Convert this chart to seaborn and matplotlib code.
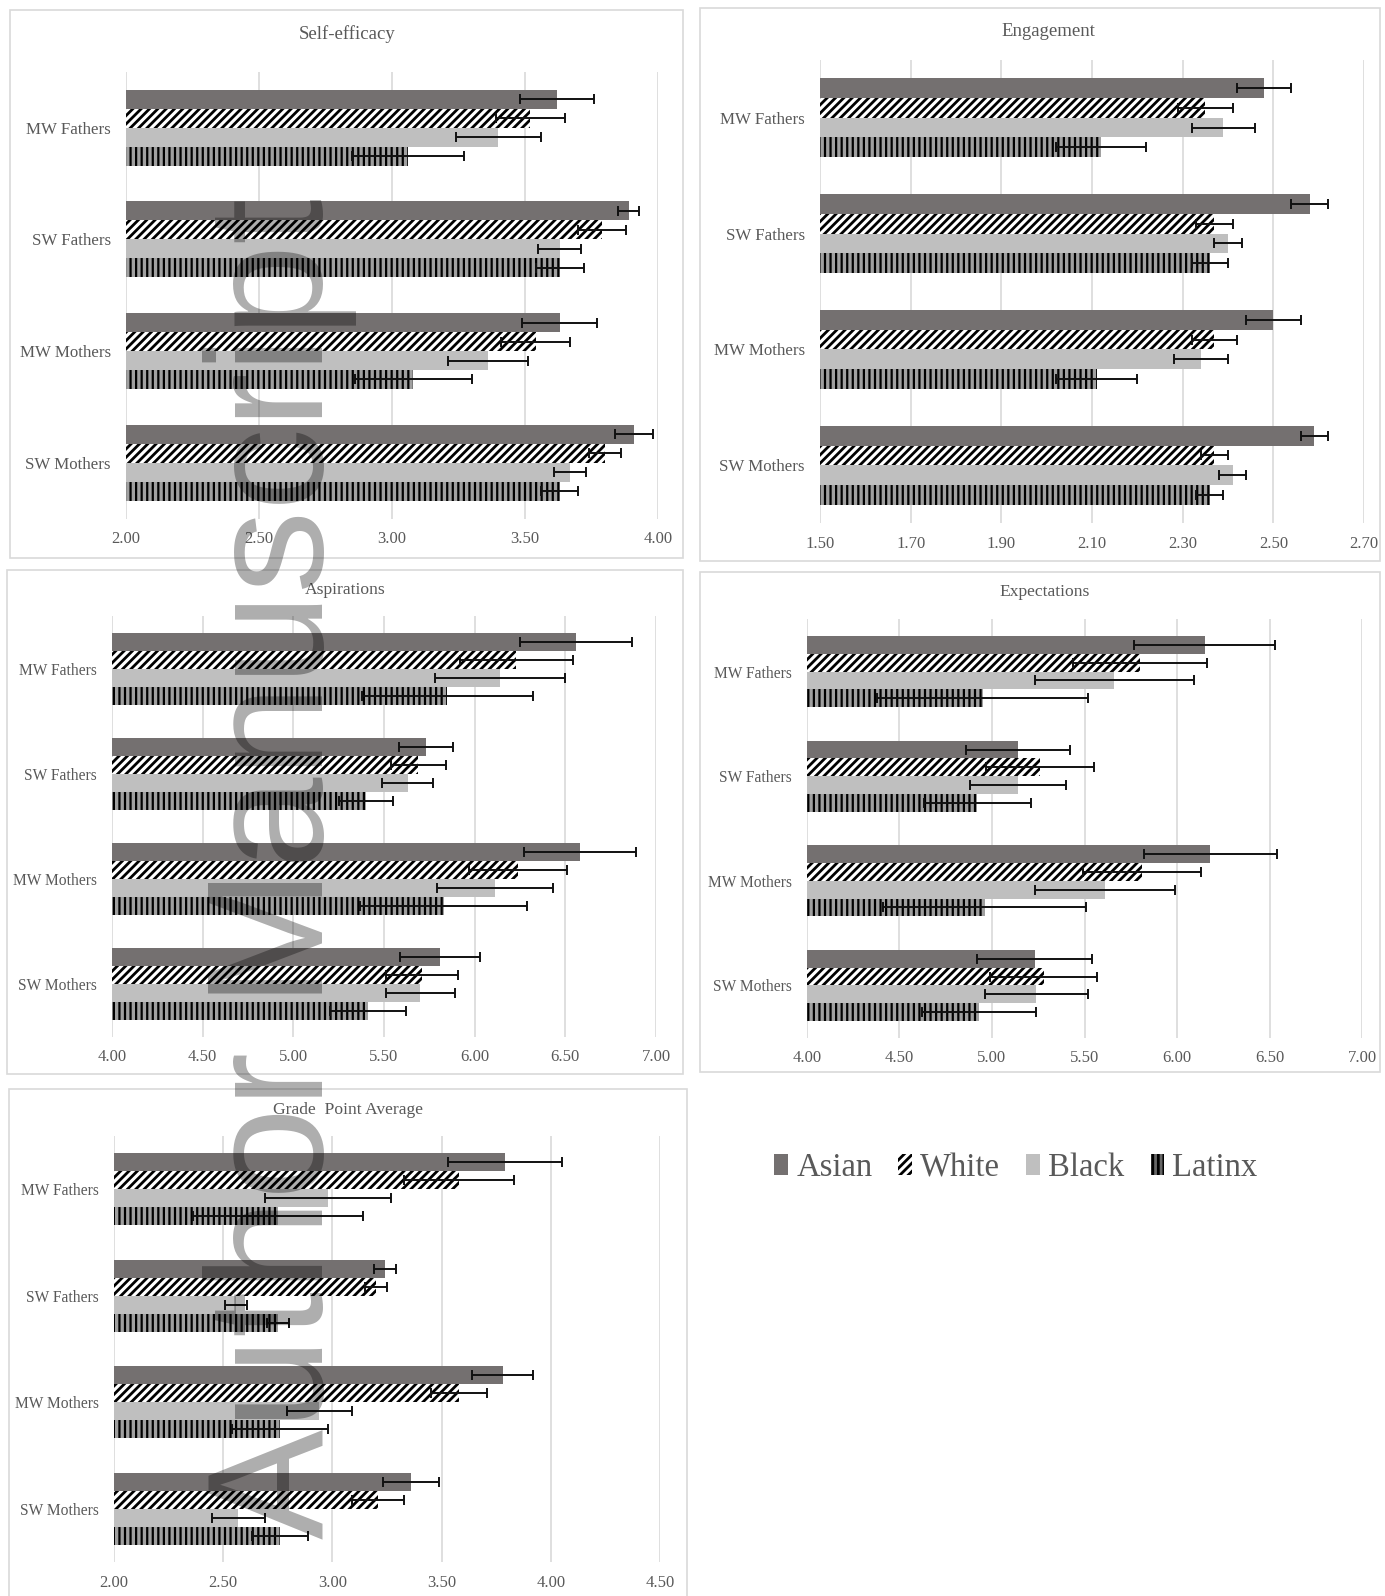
import numpy as np
import pandas as pd
import matplotlib
matplotlib.use("Agg")
import matplotlib.pyplot as plt
from matplotlib.patches import Patch, Rectangle
import seaborn as sns

# ---- data -------------------------------------------------------------
groups = ["MW Fathers", "SW Fathers", "MW Mothers", "SW Mothers"]
races = ["Asian", "White", "Black", "Latinx"]

# mean values, rows = groups, columns = races
self_efficacy = [[3.62, 3.52, 3.40, 3.06],
                 [3.89, 3.79, 3.63, 3.63],
                 [3.63, 3.54, 3.36, 3.08],
                 [3.91, 3.80, 3.67, 3.63]]
self_efficacy_err = [[0.14, 0.13, 0.16, 0.21],
                     [0.04, 0.09, 0.08, 0.09],
                     [0.14, 0.13, 0.15, 0.22],
                     [0.07, 0.06, 0.06, 0.07]]

engagement = [[2.48, 2.35, 2.39, 2.12],
              [2.58, 2.37, 2.40, 2.36],
              [2.50, 2.37, 2.34, 2.11],
              [2.59, 2.37, 2.41, 2.36]]
engagement_err = [[0.06, 0.06, 0.07, 0.10],
                  [0.04, 0.04, 0.03, 0.04],
                  [0.06, 0.05, 0.06, 0.09],
                  [0.03, 0.03, 0.03, 0.03]]

aspirations = [[6.56, 6.23, 6.14, 5.85],
               [5.73, 5.69, 5.63, 5.40],
               [6.58, 6.24, 6.11, 5.83],
               [5.81, 5.71, 5.70, 5.41]]
aspirations_err = [[0.31, 0.31, 0.36, 0.47],
                   [0.15, 0.15, 0.14, 0.15],
                   [0.31, 0.27, 0.32, 0.46],
                   [0.22, 0.20, 0.19, 0.21]]

expectations = [[6.15, 5.80, 5.66, 4.95],
                [5.14, 5.26, 5.14, 4.92],
                [6.18, 5.81, 5.61, 4.96],
                [5.23, 5.28, 5.24, 4.93]]
expectations_err = [[0.38, 0.36, 0.43, 0.57],
                    [0.28, 0.29, 0.26, 0.29],
                    [0.36, 0.32, 0.38, 0.55],
                    [0.31, 0.29, 0.28, 0.31]]

gpa = [[3.79, 3.58, 2.98, 2.75],
       [3.24, 3.20, 2.56, 2.75],
       [3.78, 3.58, 2.94, 2.76],
       [3.36, 3.21, 2.57, 2.76]]
gpa_err = [[0.26, 0.25, 0.29, 0.39],
           [0.05, 0.05, 0.05, 0.05],
           [0.14, 0.13, 0.15, 0.22],
           [0.13, 0.12, 0.12, 0.13]]

panel_titles = ["Self-efficacy", "Engagement", "Aspirations",
                "Expectations", "Grade  Point Average"]
panel_ticks = [[2.00, 2.50, 3.00, 3.50, 4.00],
               [1.50, 1.70, 1.90, 2.10, 2.30, 2.50, 2.70],
               [4.00, 4.50, 5.00, 5.50, 6.00, 6.50, 7.00],
               [4.00, 4.50, 5.00, 5.50, 6.00, 6.50, 7.00],
               [2.00, 2.50, 3.00, 3.50, 4.00, 4.50]]

# ---- styling ----------------------------------------------------------
sns.set_theme(style="white")
plt.rcParams["font.family"] = ["Liberation Serif", "DejaVu Serif"]
plt.rcParams["hatch.linewidth"] = 2.0

TXT = "#595959"
GRID = "#d9d9d9"
W, H = 1385, 1596
BAR_W = 0.68

race_face = {"Asian": "#747070", "White": "#ffffff", "Black": "#bfbfbf", "Latinx": "#a0a0a0"}
race_hatch = {"Asian": None, "White": "////", "Black": None, "Latinx": "|||"}
race_hlw = {"Asian": 1.0, "White": 2.0, "Black": 1.0, "Latinx": 1.6}

fig = plt.figure(figsize=(W / 100, H / 100), dpi=100)
fig.patch.set_facecolor("white")


def frame(x0, y0, x1, y1):
    fig.add_artist(Rectangle((x0 / W, 1 - y1 / H), (x1 - x0) / W, (y1 - y0) / H,
                             transform=fig.transFigure, fill=False,
                             edgecolor=GRID, linewidth=1.2, zorder=0))


def panel(values, errs, ticks, title, left, right, bars_top, bars_bottom, box,
          title_x, title_y, label_size, title_size):
    u = (bars_bottom - bars_top) / (3 + BAR_W)
    pad = (0.5 - BAR_W / 2) * u
    top, bottom = bars_top - pad, bars_bottom + pad
    ax = fig.add_axes([left / W, 1 - bottom / H, (right - left) / W, (bottom - top) / H])

    df = pd.DataFrame({
        "group": np.repeat(groups, len(races)),
        "race": races * len(groups),
        "value": np.ravel(values),
        "err": np.ravel(errs),
    })
    sns.barplot(data=df, x="value", y="group", hue="race", order=groups,
                hue_order=races, orient="h", width=BAR_W, errorbar=None,
                palette=[race_face[r] for r in races], saturation=1,
                legend=False, ax=ax)

    for race, cont in zip(races, ax.containers):
        sub = df[df.race == race].set_index("group").loc[groups]
        centers = []
        for bar in cont:
            bar.set_facecolor(race_face[race])
            bar.set_linewidth(0)
            if race_hatch[race]:
                bar.set_hatch(race_hatch[race])
                bar.set_edgecolor("black")
                if hasattr(bar, "set_hatch_linewidth"):
                    bar.set_hatch_linewidth(race_hlw[race])
            centers.append(bar.get_y() + bar.get_height() / 2)
        ax.errorbar(sub["value"].values, centers, xerr=sub["err"].values,
                    fmt="none", ecolor="#111111", elinewidth=1.4,
                    capsize=3.5, capthick=1.4, zorder=5)

    ax.set_xlim(ticks[0], ticks[-1])
    ax.set_ylim(3.5, -0.5)
    ax.set_xticks(ticks)
    ax.set_xticklabels([f"{t:.2f}" for t in ticks])
    ax.xaxis.grid(True, color=GRID, linewidth=1.2)
    ax.yaxis.grid(False)
    ax.set_axisbelow(True)
    for s in ax.spines.values():
        s.set_visible(False)
    ax.tick_params(axis="x", length=0, pad=9, labelsize=12, labelcolor=TXT)
    ax.tick_params(axis="y", length=0, pad=11, labelsize=label_size, labelcolor=TXT)
    ax.set_xlabel("")
    ax.set_ylabel("")
    ax.set_facecolor("none")

    frame(*box)
    fig.text(title_x / W, 1 - title_y / H, title,
             ha="center", va="center", fontsize=title_size, color=TXT)
    return ax


panel(self_efficacy, self_efficacy_err, panel_ticks[0], panel_titles[0],
      126, 658, 89.6, 500.7, (10, 10, 683, 558), 347, 34, 12.2, 13.5)
panel(engagement, engagement_err, panel_ticks[1], panel_titles[1],
      820, 1364, 78.4, 504.7, (700, 8, 1380, 561), 1048, 31, 12.2, 13.5)
panel(aspirations, aspirations_err, panel_ticks[2], panel_titles[2],
      112, 656, 633, 1020, (7, 570, 683, 1074), 345, 590, 11.2, 12.6)
panel(expectations, expectations_err, panel_ticks[3], panel_titles[3],
      807, 1362, 636, 1021, (700, 572, 1380, 1072), 1045, 592, 11.2, 12.6)
panel(gpa, gpa_err, panel_ticks[4], panel_titles[4],
      114, 660, 1153, 1545, (9, 1089, 687, 1600), 348, 1110, 11.2, 12.6)

# shared legend
handles = []
for r in races:
    hp = Patch(facecolor=race_face[r] if r != "Latinx" else "#666666",
               edgecolor="black" if race_hatch[r] else race_face[r],
               hatch=race_hatch[r], linewidth=0)
    handles.append(hp)
leg = fig.legend(handles, races, loc="center", ncol=4,
                 bbox_to_anchor=(1016 / W, 1 - 1168 / H), frameon=False,
                 fontsize=23.5, handlelength=0.42, handleheight=0.62,
                 handletextpad=0.25, columnspacing=0.8, borderaxespad=0)
for t in leg.get_texts():
    t.set_color(TXT)

# manuscript stamp running up the left column
fig.text(323 / W, 1 - 868 / H, "Author Manuscript", rotation=90,
         rotation_mode="anchor", ha="center", va="baseline",
         fontsize=119, family="Liberation Sans", color="black", alpha=0.32,
         zorder=10)

fig.savefig("out.png", dpi=100, facecolor="white")
